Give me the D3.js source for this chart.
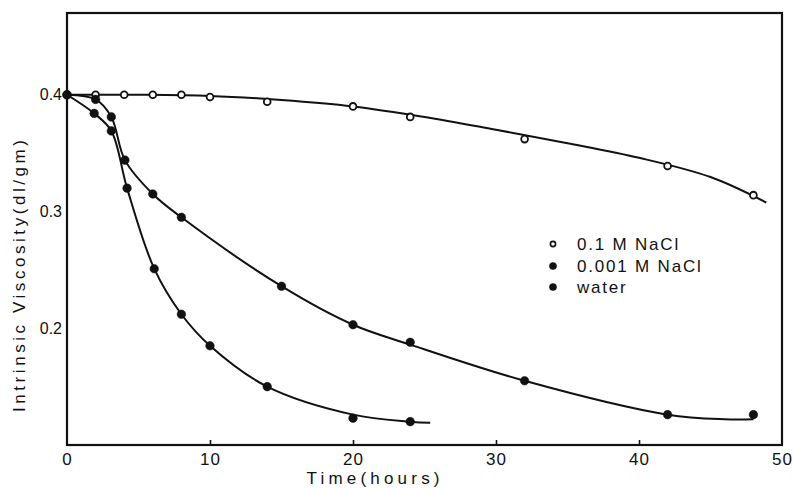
<!DOCTYPE html>
<html>
<head>
<meta charset="utf-8">
<script src="https://cdn.jsdelivr.net/npm/d3@7"></script>
<style>
  html, body { margin: 0; padding: 0; background: #fff; }
  svg { display: block; }
  text { font-family: "Liberation Sans", Arial, sans-serif; fill: #111; }
</style>
</head>
<body>
<svg id="chart" width="794" height="488"></svg>
<script>
// ---- data ----
const xTicks = [0, 10, 20, 30, 40, 50];
const yTicks = [0.2, 0.3, 0.4];
const yTickLabels = ["0.2", "0.3", "0.4"];

// 0.1 M NaCl (open circles)
const nacl01Time = [0, 2, 4, 6, 8, 10, 14, 20, 24, 32, 42, 48];
const nacl01Visc = [0.400, 0.400, 0.400, 0.400, 0.400, 0.398, 0.394, 0.390, 0.381, 0.362, 0.339, 0.314];
const nacl01FitTime = [0, 5, 10, 15, 20, 25, 30, 35, 40, 45, 48.9];
const nacl01FitVisc = [0.400, 0.400, 0.399, 0.3955, 0.390, 0.381, 0.370, 0.3585, 0.346, 0.3295, 0.3077];

// 0.001 M NaCl (filled circles)
const nacl001Time = [0, 2, 3.1, 4.05, 6, 8, 15, 20, 24, 32, 42, 48];
const nacl001Visc = [0.400, 0.396, 0.381, 0.344, 0.315, 0.295, 0.236, 0.203, 0.188, 0.155, 0.126, 0.126];
const nacl001FitTime = [0, 2, 3.1, 4.05, 6, 8, 15, 20, 24, 32, 42, 46, 48];
const nacl001FitVisc = [0.400, 0.396, 0.381, 0.344, 0.315, 0.295, 0.236, 0.203, 0.186, 0.155, 0.126, 0.122, 0.122];

// water (filled circles)
const waterTime = [0, 1.9, 3.1, 4.2, 6.1, 8, 10, 14, 20, 24];
const waterVisc = [0.400, 0.384, 0.369, 0.320, 0.251, 0.212, 0.185, 0.150, 0.123, 0.120];
const waterFitTime = [0, 1.9, 3.1, 4.2, 6.1, 8, 10, 14, 20, 24, 25.4];
const waterFitVisc = [0.400, 0.384, 0.369, 0.320, 0.251, 0.212, 0.185, 0.150, 0.126, 0.120, 0.119];

const legendLabels = ["0.1 M NaCl", "0.001 M NaCl", "water"];

// ---- drawing ----
const svg = d3.select("#chart");
const x = d3.scaleLinear().domain([0, 50]).range([67, 782]);
const y = d3.scaleLinear().domain([0.1, 0.47]).range([445, 13]);

const zip = (a, b) => a.map((v, i) => [v, b[i]]);

// frame
svg.append("rect")
  .attr("x", x(0)).attr("y", y(0.47))
  .attr("width", x(50) - x(0)).attr("height", y(0.1) - y(0.47))
  .attr("fill", "none").attr("stroke", "#111").attr("stroke-width", 2.2);

// x axis (ticks inward)
const xAxis = d3.axisBottom(x).tickValues(xTicks).tickSize(-5).tickPadding(8).tickFormat(d3.format("d"));
const gx = svg.append("g").attr("transform", `translate(0,${y(0.1)})`).call(xAxis);
gx.select(".domain").remove();
gx.selectAll(".tick line").attr("stroke", "#111").attr("stroke-width", 1.6)
  .filter(d => d === 0 || d === 50).remove();
gx.selectAll(".tick text").attr("font-size", 17)
  .attr("letter-spacing", 1)
  .style("font-family", "'Liberation Sans', Arial, sans-serif").attr("fill", "#111");

// y axis (labels only)
const yAxis = d3.axisLeft(y).tickValues(yTicks).tickSize(0).tickPadding(5)
  .tickFormat((d, i) => yTickLabels[i]);
const gy = svg.append("g").attr("transform", `translate(${x(0)},0)`).call(yAxis);
gy.select(".domain").remove();
gy.selectAll(".tick text").attr("font-size", 16)
  .style("font-family", "'Liberation Sans', Arial, sans-serif").attr("fill", "#111");

// axis titles
svg.append("text")
  .attr("x", 373).attr("y", 484)
  .attr("text-anchor", "middle")
  .attr("font-size", 17)
  .attr("textLength", 133).attr("lengthAdjust", "spacing")
  .text("Time(hours)");

svg.append("text")
  .attr("transform", `translate(25,${276}) rotate(-90)`)
  .attr("text-anchor", "middle")
  .attr("font-size", 17)
  .attr("textLength", 272).attr("lengthAdjust", "spacing")
  .text("Intrinsic Viscosity(dl/gm)");

// fitted curves
const line = d3.line().x(d => x(d[0])).y(d => y(d[1])).curve(d3.curveCatmullRom.alpha(0.5));
[[nacl01FitTime, nacl01FitVisc], [nacl001FitTime, nacl001FitVisc], [waterFitTime, waterFitVisc]]
  .forEach(([t, v]) => {
    svg.append("path").datum(zip(t, v)).attr("d", line)
      .attr("fill", "none").attr("stroke", "#111").attr("stroke-width", 2);
  });

// points
function points(t, v, open) {
  svg.append("g").selectAll("circle").data(zip(t, v)).join("circle")
    .attr("cx", d => x(d[0])).attr("cy", d => y(d[1]))
    .attr("r", open ? 3.4 : 4.3)
    .attr("fill", open ? "#fff" : "#111")
    .attr("stroke", "#111").attr("stroke-width", open ? 1.8 : 0.5);
}
points(nacl01Time, nacl01Visc, true);
points(nacl001Time, nacl001Visc, false);
points(waterTime, waterVisc, false);

// legend
const legendY = [244, 266, 287];
legendLabels.forEach((lab, i) => {
  const open = i === 0;
  svg.append("circle").attr("cx", 553).attr("cy", legendY[i])
    .attr("r", open ? 2.6 : 3.6)
    .attr("fill", open ? "#fff" : "#111")
    .attr("stroke", "#111").attr("stroke-width", open ? 1.6 : 0.5);
  svg.append("text").attr("x", 577).attr("y", legendY[i]).attr("dy", "0.36em")
    .attr("font-size", 17).attr("letter-spacing", 1.8)
    .text(lab);
});
</script>
</body>
</html>
